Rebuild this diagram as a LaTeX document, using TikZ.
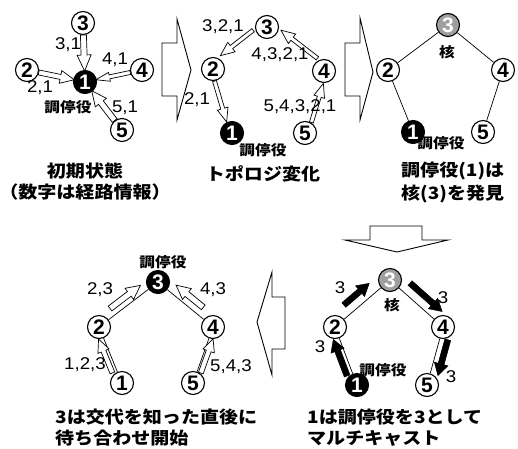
\documentclass[tikz,border=0pt]{standalone}
\usepackage{fontspec}
\setmainfont{Liberation Sans}
\newfontfamily\jp[FakeStretch=1.12]{Noto Sans CJK JP}
\newfontfamily\lab[FakeStretch=1.1]{Liberation Sans}
\usetikzlibrary{calc}
\tikzset{
 nd/.style={circle, draw, line width=1.1pt, fill=white, minimum size=23pt, inner sep=0pt, font=\bfseries\fontsize{21}{21}\selectfont},
 bk/.style={nd, fill=black, text=white},
 gy/.style={nd, fill=gray!75, text=white},
 lb/.style={font=\lab\fontsize{17}{17}\selectfont, inner sep=0pt},
 jl/.style={font=\jp\bfseries\fontsize{14}{14}\selectfont, inner sep=0pt},
 captxt/.style={font=\jp\bfseries\fontsize{17}{17}\selectfont, inner sep=0pt, align=left},
 edgeln/.style={line width=0.7pt},
 hol/.style={draw, fill=white, line width=0.7pt, line join=miter},
 sol/.style={draw, fill=black, line width=0.5pt, line join=miter},
 big/.style={draw, fill=white, line width=0.9pt, line join=miter},
}
% #1 style, #2 from, #3 to, #4 gap start, #5 gap end, #6 side offset, #7 half shaft, #8 half head, #9 head length
\newcommand\barrow[9][hol]{%
 \path ($(#2)!#4!(#3)$) coordinate (s0) ($(#3)!#5!(#2)$) coordinate (e0);
 \path ($(s0)!#6!90:(e0)$) coordinate (s) ($(e0)!#6!-90:(s0)$) coordinate (e);
 \path ($(e)!#9!(s)$) coordinate (h);
 \draw[#1] ($(s)!#7!90:(e)$) -- ($(h)!#7!-90:(s)$) -- ($(h)!#8!-90:(s)$) -- (e)
   -- ($(h)!#8!90:(s)$) -- ($(h)!#7!90:(s)$) -- ($(s)!#7!-90:(e)$) -- cycle;
}
\begin{document}
\begin{tikzpicture}[x=1pt,y=-1pt]
\useasboundingbox[fill=white] (0,0) rectangle (518,448);

% ---------- big transition arrows ----------
\draw[big] (162,43) -- (177,43) -- (177,19) -- (191,70) -- (177,120) -- (177,96) -- (162,96) -- cycle;
\draw[big] (345,43) -- (360,43) -- (360,18) -- (373,72) -- (360,120) -- (360,96) -- (345,96) -- cycle;
\draw[big] (370,226) -- (422,226) -- (422,240) -- (448,240) -- (397,252) -- (345,240) -- (370,240) -- cycle;
\draw[big] (285,297) -- (272,297) -- (272,272) -- (257,322) -- (272,375) -- (272,349) -- (285,349) -- cycle;

% ---------- panel 1 ----------
\node[nd] (a3) at (83,23) {3};
\node[nd] (a2) at (27,70) {2};
\node[bk] (a1) at (85,82) {1};
\node[nd] (a4) at (142,70) {4};
\node[nd] (a5) at (122,130) {5};
\barrow{a3}{a1}{12pt}{11pt}{0pt}{3pt}{7pt}{16pt}
\barrow{a2}{a1}{12pt}{11pt}{0pt}{2.5pt}{6.5pt}{14pt}
\barrow{a4}{a1}{12pt}{11pt}{0pt}{2pt}{4.5pt}{14pt}
\barrow{a5}{a1}{12pt}{11pt}{0pt}{3pt}{7pt}{15pt}
\node[lb] (l31) at (68,45) {3,1};
\node[lb] (l41) at (115,60) {4,1};
\node[lb] (l21) at (40,88) {2,1};
\node[lb] (l51) at (125,108) {5,1};
\node[jl] (m1) at (68,107) {調停役};
\node[captxt, align=center] (c1) at (85,182) {初期状態\\[4pt]（数字は経路情報）};

% ---------- panel 2 ----------
\node[nd] (b3) at (267,27) {3};
\node[nd] (b2) at (213,69) {2};
\node[nd] (b4) at (324,71) {4};
\node[bk] (b1) at (232,133) {1};
\node[nd] (b5) at (305,133) {5};
\barrow{b3}{b2}{13pt}{14pt}{-6pt}{2pt}{6pt}{14pt}
\barrow{b4}{b3}{13pt}{13pt}{-6pt}{2pt}{6pt}{14pt}
\barrow{b2}{b1}{12pt}{12pt}{-2pt}{2pt}{5.5pt}{14pt}
\barrow{b5}{b4}{12pt}{12pt}{-3pt}{2pt}{5.5pt}{14pt}
\node[lb] (l321) at (223,27) {3,2,1};
\node[lb] (l4321) at (280,55) {4,3,2,1};
\node[lb] (l21b) at (197,100) {2,1};
\node[lb] (l54321) at (300,107) {5,4,3,2,1};
\node[jl] (m2) at (263,150) {調停役};
\node[captxt] (c2) at (263,174) {トポロジ変化};

% ---------- panel 3 ----------
\node[gy] (c3n) at (448,25) {3};
\node[nd] (c2n) at (388,70) {2};
\node[nd] (c4n) at (503,70) {4};
\node[bk] (c1n) at (413,132) {1};
\node[nd] (c5n) at (483,132) {5};
\draw[edgeln] (c3n) -- (c2n);
\draw[edgeln] (c3n) -- (c4n);
\draw[edgeln] (c2n) -- (c1n);
\draw[edgeln] (c4n) -- (c5n);
\node[jl] (k3) at (447,52) {核};
\node[jl] (m3) at (441,143) {調停役};
\node[captxt, anchor=west] (c3) at (401,182) {調停役(1)は\\[4pt]核(3)を発見};

% ---------- panel 4 ----------
\node[bk] (d3) at (158,282) {3};
\node[nd] (d2) at (99,327) {2};
\node[nd] (d4) at (213,327) {4};
\node[nd] (d1) at (122,383) {1};
\node[nd] (d5) at (193,383) {5};
\draw[edgeln] (d3) -- (d2);
\draw[edgeln] (d3) -- (d4);
\draw[edgeln] (d1) -- (d2);
\draw[edgeln] (d5) -- (d4);
\barrow{d2}{d3}{20pt}{16pt}{8pt}{3pt}{7pt}{14pt}
\barrow{d4}{d3}{20pt}{16pt}{-9pt}{3pt}{7pt}{14pt}
\barrow{d1}{d2}{13pt}{11pt}{5pt}{2.5pt}{6pt}{13pt}
\barrow{d5}{d4}{12pt}{11pt}{-4pt}{2.5pt}{6pt}{13pt}
\node[jl] (m4) at (163,262) {調停役};
\node[lb] (l23) at (100,290) {2,3};
\node[lb] (l43) at (213,290) {4,3};
\node[lb] (l123) at (85,365) {1,2,3};
\node[lb] (l543) at (231,367) {5,4,3};
\node[captxt, anchor=west] (c4) at (55,428) {3は交代を知った直後に\\[4pt]待ち合わせ開始};

% ---------- panel 5 ----------
\node[gy] (e3) at (390,280) {3};
\node[nd] (e2) at (335,327) {2};
\node[nd] (e4) at (443,327) {4};
\node[bk] (e1) at (357,385) {1};
\node[nd] (e5) at (427,385) {5};
\draw[edgeln] (e3) -- (e2);
\draw[edgeln] (e3) -- (e4);
\draw[edgeln] (e1) -- (e2);
\draw[edgeln] (e5) -- (e4);
\barrow[sol]{e2}{e3}{21pt}{18pt}{11pt}{3pt}{7pt}{12pt}
\barrow[sol]{e3}{e4}{17pt}{11pt}{11pt}{3pt}{7pt}{12pt}
\barrow[sol]{e1}{e2}{12pt}{11pt}{6pt}{3pt}{7pt}{12pt}
\barrow[sol]{e4}{e5}{11pt}{12pt}{8pt}{3pt}{7pt}{12pt}
\node[jl] (k5) at (392,305) {核};
\node[jl] (m5) at (383,370) {調停役};
\node[lb] (n1) at (340,288) {3};
\node[lb] (n2) at (443,298) {3};
\node[lb] (n3) at (320,347) {3};
\node[lb] (n4) at (451,377) {3};
\node[captxt, anchor=west] (c5) at (307,428) {1は調停役を3として\\[4pt]マルチキャスト};
\end{tikzpicture}
\end{document}
